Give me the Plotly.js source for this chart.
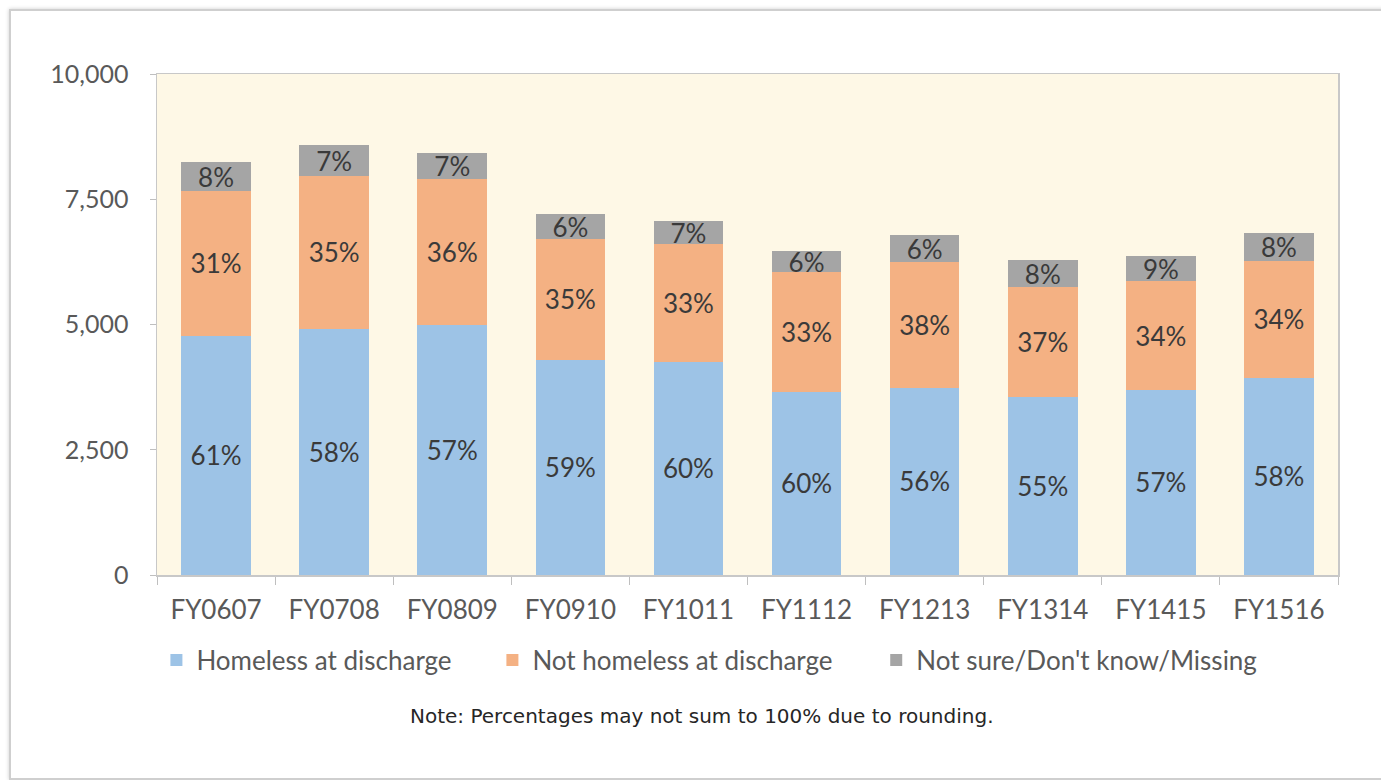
<!DOCTYPE html>
<html>
<head>
<meta charset="utf-8">
<script src="https://cdn.plot.ly/plotly-3.0.1.min.js"></script>
<style>
  html, body { margin: 0; padding: 0; background: #ffffff; width: 1381px; height: 780px; overflow: hidden; }
  #frame { position: absolute; left: 9px; top: 9px; width: 1400px; height: 767px; border: 2px solid #cfcfcf; box-shadow: 0 0 4px rgba(0,0,0,0.2); background: #ffffff; }
  #chart { position: absolute; left: 0; top: 0; width: 1381px; height: 780px; }
</style>
</head>
<body>
<div id="frame"></div>
<div id="chart"></div>
<script>
const categories = ["FY0607", "FY0708", "FY0809", "FY0910", "FY1011", "FY1112", "FY1213", "FY1314", "FY1415", "FY1516"];

const homeless    = [4780, 4920, 5000, 4300, 4260, 3660, 3740, 3560, 3700, 3940];
const notHomeless = [2880, 3040, 2900, 2400, 2340, 2380, 2500, 2180, 2160, 2320];
const notSure     = [ 580,  620,  520,  500,  460,  420,  540,  540,  500,  560];

const homelessPct    = ["61%", "58%", "57%", "59%", "60%", "60%", "56%", "55%", "57%", "58%"];
const notHomelessPct = ["31%", "35%", "36%", "35%", "33%", "33%", "38%", "37%", "34%", "34%"];
const notSurePct     = ["8%", "7%", "7%", "6%", "7%", "6%", "6%", "8%", "9%", "8%"];

const seriesNames = ["Homeless at discharge", "Not homeless at discharge", "Not sure/Don't know/Missing"];
const yTickVals = [0, 2500, 5000, 7500, 10000];
const noteText = "Note: Percentages may not sum to 100% due to rounding.";

const FONT = "Lato, 'Open Sans', sans-serif";

function barTrace(name, y, text, color, legendId) {
  return {
    type: "bar",
    name: name,
    x: categories,
    y: y,
    text: text,
    textposition: "inside",
    insidetextanchor: "middle",
    textangle: 0,
    textfont: { family: FONT, size: 26, color: "#3a3a3a" },
    marker: { color: color, line: { width: 0 } },
    legend: legendId,
    hoverinfo: "skip"
  };
}

const data = [
  barTrace(seriesNames[0], homeless, homelessPct, "#9DC3E6", "legend"),
  barTrace(seriesNames[1], notHomeless, notHomelessPct, "#F4B183", "legend2"),
  barTrace(seriesNames[2], notSure, notSurePct, "#A5A5A5", "legend3")
];

function legendAt(x) {
  return {
    orientation: "h",
    x: x,
    xanchor: "left",
    y: -0.17,
    yanchor: "middle",
    font: { family: FONT, size: 26, color: "#595959" },
    itemwidth: 30,
    bgcolor: "rgba(0,0,0,0)"
  };
}

const layout = {
  width: 1381,
  height: 780,
  margin: { l: 157, r: 43, t: 74, b: 205 },
  paper_bgcolor: "rgba(0,0,0,0)",
  plot_bgcolor: "#FEF8E6",
  barmode: "stack",
  bargap: 0.41,
  showlegend: true,
  uniformtext: { mode: "show", minsize: 25 },
  font: { family: FONT, color: "#595959" },
  xaxis: {
    type: "category",
    tickson: "boundaries",
    ticks: "outside",
    ticklen: 8,
    tickcolor: "#bfbfbf",
    showline: true,
    linecolor: "#c8c8c8",
    linewidth: 1.5,
    mirror: true,
    showgrid: false,
    tickfont: { family: FONT, size: 26, color: "#595959" },
    ticklabelstandoff: 11
  },
  yaxis: {
    range: [0, 10000],
    tickvals: yTickVals,
    tickformat: ",d",
    ticks: "outside",
    ticklen: 6,
    tickcolor: "#bfbfbf",
    showline: true,
    linecolor: "#c8c8c8",
    linewidth: 1.5,
    mirror: true,
    showgrid: false,
    zeroline: false,
    tickfont: { family: FONT, size: 25, color: "#595959" },
    ticklabelstandoff: 16
  },
  legend: legendAt(-0.0005),
  legend2: legendAt(0.284),
  legend3: legendAt(0.609),
  annotations: [{
    xref: "paper", yref: "paper",
    x: 0.4615, y: -0.281,
    xanchor: "center", yanchor: "middle",
    text: noteText,
    showarrow: false,
    font: { family: "'DejaVu Sans', sans-serif", size: 20, color: "#262626" }
  }]
};

Plotly.newPlot("chart", data, layout, { displayModeBar: false, staticPlot: true });
</script>
</body>
</html>
